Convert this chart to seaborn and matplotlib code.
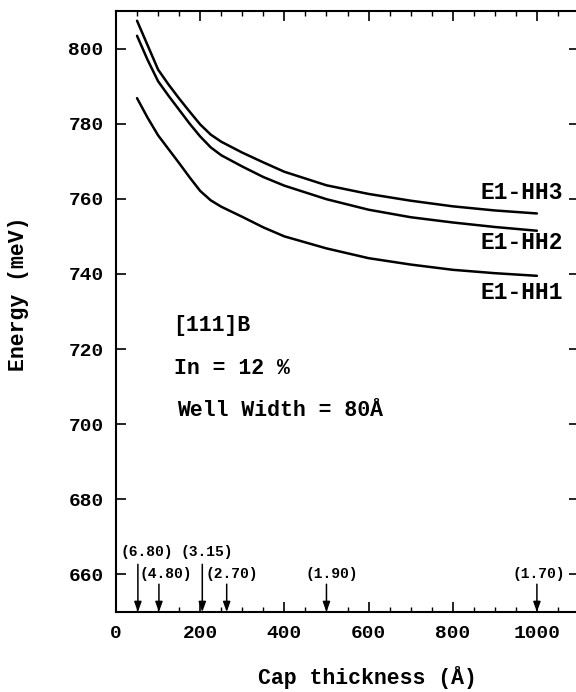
import pandas as pd
import seaborn as sns
import matplotlib.pyplot as plt

# Energias de transicion vs espesor del cap
cap = [50, 75, 100, 125, 150, 175, 200, 225, 250, 300, 350, 400, 500, 600, 700, 800, 900, 1000]
e1_hh3 = [807.4, 800.9, 794.4, 790.4, 786.7, 783.2, 779.8, 777.1, 775.2, 772.3, 769.7, 767.2,
          763.6, 761.3, 759.5, 758.0, 756.9, 756.1]
e1_hh2 = [803.4, 797.0, 791.3, 787.4, 783.7, 780.0, 776.6, 773.7, 771.6, 768.6, 765.8, 763.5,
          759.9, 757.1, 755.1, 753.7, 752.5, 751.5]
e1_hh1 = [786.8, 781.6, 776.9, 773.2, 769.5, 765.7, 762.1, 759.6, 757.9, 755.2, 752.4, 750.0,
          746.8, 744.2, 742.5, 741.1, 740.2, 739.5]

series_names = ["E1-HH3", "E1-HH2", "E1-HH1"]
label_y = [761.7, 748.4, 735.1]

# flechas (valores entre parentesis) sobre el eje x
arrow_x = [52, 102, 205, 263, 500, 1000]
arrow_txt = ["(6.80)", "(4.80)", "(3.15)", "(2.70)", "(1.90)", "(1.70)"]
arrow_top = [662.7, 657.4, 662.7, 657.4, 657.4, 657.4]
arrow_lbl_x = [74, 118, 216, 276, 512, 1005]
arrow_lbl_y = [666.1, 660.0, 666.1, 660.0, 660.0, 660.0]

notes = ["[111]B", "In = 12 %", "Well Width = 80Å"]
notes_x = [135, 137, 146]
notes_y = [726.3, 714.8, 703.6]

df = pd.DataFrame({"Cap": cap, "E1-HH3": e1_hh3, "E1-HH2": e1_hh2, "E1-HH1": e1_hh1})
df_long = df.melt(id_vars="Cap", var_name="Serie", value_name="Energia")

sns.set_theme(style="ticks")
plt.rcParams["font.family"] = ["Liberation Mono", "DejaVu Sans Mono"]
plt.rcParams["font.weight"] = "bold"
for k in ["text.color", "axes.labelcolor", "xtick.color", "ytick.color", "axes.edgecolor"]:
    plt.rcParams[k] = "black"

fig = plt.figure(figsize=(5.76, 6.92), dpi=100)
ax = fig.add_axes([116 / 576, 80 / 692, 463 / 576, 601 / 692])

sns.lineplot(data=df_long, x="Cap", y="Energia", hue="Serie", units="Serie",
             estimator=None, palette=["black"] * 3, linewidth=1.8, legend=False, ax=ax)

ax.set_xlim(0, 1100)
ax.set_ylim(650, 810)
ax.set_xticks(range(0, 1001, 200))
ax.set_xticks(range(50, 1100, 50), minor=True)
ax.set_yticks(range(660, 801, 20))
ax.tick_params(axis="both", which="major", direction="in", length=7, width=1.2,
               top=True, right=True, labelsize=14, pad=9)
ax.tick_params(axis="x", which="minor", direction="in", length=3.5, width=1.0, top=True)
for s in ax.spines.values():
    s.set_linewidth(1.5)
for lbl in ax.get_xticklabels() + ax.get_yticklabels():
    lbl.set_fontweight("bold")

ax.set_xlabel("Cap thickness (Å)", fontsize=15.5, fontweight="bold", labelpad=18)
ax.set_ylabel("Energy (meV)", fontsize=15.5, fontweight="bold", labelpad=28)
ax.xaxis.label.set_x(0.544)
ax.yaxis.label.set_y(0.53)

for name, y in zip(series_names, label_y):
    ax.text(1062, y, name, ha="right", va="center", fontsize=16.5, fontweight="bold")

for t, x, y in zip(notes, notes_x, notes_y):
    ax.text(x, y, t, ha="left", va="center", fontsize=15.5, fontweight="bold")

for x, top, t, lx, ly in zip(arrow_x, arrow_top, arrow_txt, arrow_lbl_x, arrow_lbl_y):
    ax.annotate("", xy=(x, 650), xytext=(x, top),
                arrowprops=dict(arrowstyle="-|>,head_length=0.5,head_width=0.18",
                                color="black", lw=1.1, shrinkA=0, shrinkB=0))
    ax.text(lx, ly, t, ha="center", va="center", fontsize=10.5, fontweight="bold")

fig.savefig("out.png", dpi=100)
